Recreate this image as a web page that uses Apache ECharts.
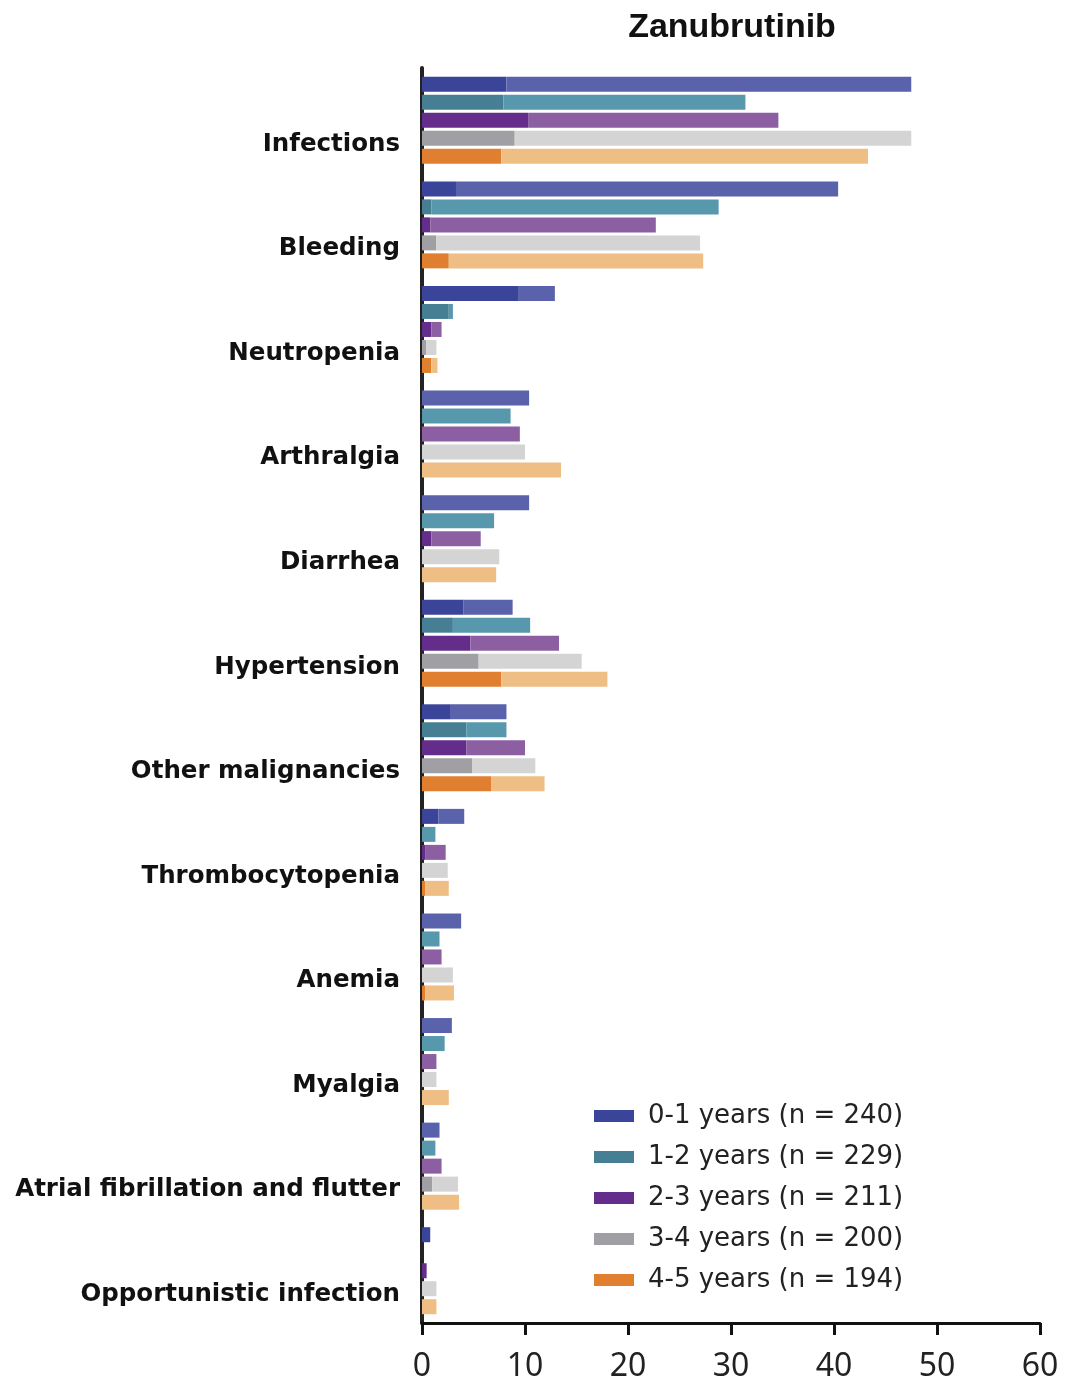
<!DOCTYPE html>
<html>
<head>
<meta charset="utf-8">
<script src="https://cdn.jsdelivr.net/npm/echarts@6/dist/echarts.min.js"></script>
<style>
  html, body { margin: 0; padding: 0; background: #fff; }
  #chart { width: 1066px; height: 1383px; }
</style>
</head>
<body>
<div id="chart"></div>
<script>
  var categories = ['Infections', 'Bleeding', 'Neutropenia', 'Arthralgia', 'Diarrhea', 'Hypertension',
    'Other malignancies', 'Thrombocytopenia', 'Anemia', 'Myalgia', 'Atrial fibrillation and flutter',
    'Opportunistic infection'];

  var yearNames = ['0-1 years (n = 240)', '1-2 years (n = 229)', '2-3 years (n = 211)',
    '3-4 years (n = 200)', '4-5 years (n = 194)'];

  // all grades (%)
  var allY01 = [47.5, 40.4, 12.9, 10.4, 10.4, 8.8, 8.2, 4.1, 3.8, 2.9, 1.7, 0.8];
  var allY12 = [31.4, 28.8, 3.0, 8.6, 7.0, 10.5, 8.2, 1.3, 1.7, 2.2, 1.3, 0];
  var allY23 = [34.6, 22.7, 1.9, 9.5, 5.7, 13.3, 10.0, 2.3, 1.9, 1.4, 1.9, 0.45];
  var allY34 = [47.5, 27.0, 1.4, 10.0, 7.5, 15.5, 11.0, 2.5, 3.0, 1.4, 3.5, 1.4];
  var allY45 = [43.3, 27.3, 1.5, 13.5, 7.2, 18.0, 11.9, 2.6, 3.1, 2.6, 3.6, 1.4];

  // grade >= 3 (%)
  var g3Y01 = [8.2, 3.3, 9.4, 0, 0, 4.0, 2.8, 1.6, 0, 0, 0, 0.8];
  var g3Y12 = [7.9, 0.9, 2.6, 0, 0, 3.0, 4.3, 0, 0, 0, 0, 0];
  var g3Y23 = [10.3, 0.8, 0.9, 0, 0.9, 4.7, 4.3, 0.3, 0, 0, 0, 0.45];
  var g3Y34 = [9.0, 1.4, 0.4, 0, 0, 5.5, 4.9, 0, 0, 0, 1.0, 0];
  var g3Y45 = [7.7, 2.6, 0.9, 0, 0, 7.7, 6.7, 0.3, 0.3, 0, 0, 0];

  var xTicks = [0, 10, 20, 30, 40, 50, 60];

  var allGrades = [allY01, allY12, allY23, allY34, allY45];
  var grade3 = [g3Y01, g3Y12, g3Y23, g3Y34, g3Y45];
  var darkColors = ['#3a4599', '#467f94', '#652d8b', '#a09fa4', '#df7f2f'];
  var lightColors = ['#5a62ab', '#5898ad', '#8c5fa3', '#d4d4d4', '#eebe84'];

  var series = [];
  yearNames.forEach(function (name, i) {
    series.push({
      name: name,
      type: 'bar',
      stack: 'y' + i,
      barWidth: 15,
      barGap: '20%',
      itemStyle: { color: darkColors[i] },
      data: grade3[i]
    });
    series.push({
      name: name,
      type: 'bar',
      stack: 'y' + i,
      barWidth: 15,
      barGap: '20%',
      itemStyle: { color: lightColors[i] },
      data: allGrades[i].map(function (v, k) { return Math.max(0, v - grade3[i][k]); })
    });
  });

  var chart = echarts.init(document.getElementById('chart'));
  chart.setOption({
    animation: false,
    title: {
      text: 'Zanubrutinib',
      left: 727,
      top: 6,
      textAlign: 'center',
      textStyle: { fontFamily: 'Liberation Sans Narrow, Arial', fontSize: 34, fontWeight: 'bold', color: '#111' }
    },
    legend: {
      data: yearNames,
      orient: 'vertical',
      left: 594,
      top: 1102,
      padding: 0,
      itemWidth: 40,
      itemHeight: 12,
      itemGap: 13,
      icon: 'rect',
      textStyle: { fontFamily: 'DejaVu Sans', fontSize: 26, lineHeight: 28, color: '#222', padding: [0, 0, 0, 9] }
    },
    grid: { left: 422, right: 26, top: 68, bottom: 60 },
    xAxis: {
      type: 'value',
      min: 0,
      max: 60,
      interval: 10,
      axisLine: { show: true, lineStyle: { color: '#111', width: 3 } },
      axisTick: { show: true, length: 12, lineStyle: { color: '#111', width: 3 } },
      splitLine: { show: false },
      axisLabel: {
        fontFamily: 'Noto Sans', fontSize: 32, color: '#222', margin: 28,
        formatter: function (v) { return xTicks.indexOf(v) >= 0 ? String(v) : ''; }
      }
    },
    yAxis: {
      type: 'category',
      inverse: true,
      data: categories,
      axisLine: { show: true, lineStyle: { color: '#222', width: 4 } },
      axisTick: { show: false },
      axisLabel: {
        fontFamily: 'DejaVu Sans', fontWeight: 'bold', fontSize: 24.5, color: '#111', margin: 22,
        verticalAlign: 'top', lineHeight: 48
      }
    },
    series: series
  });
</script>
</body>
</html>
